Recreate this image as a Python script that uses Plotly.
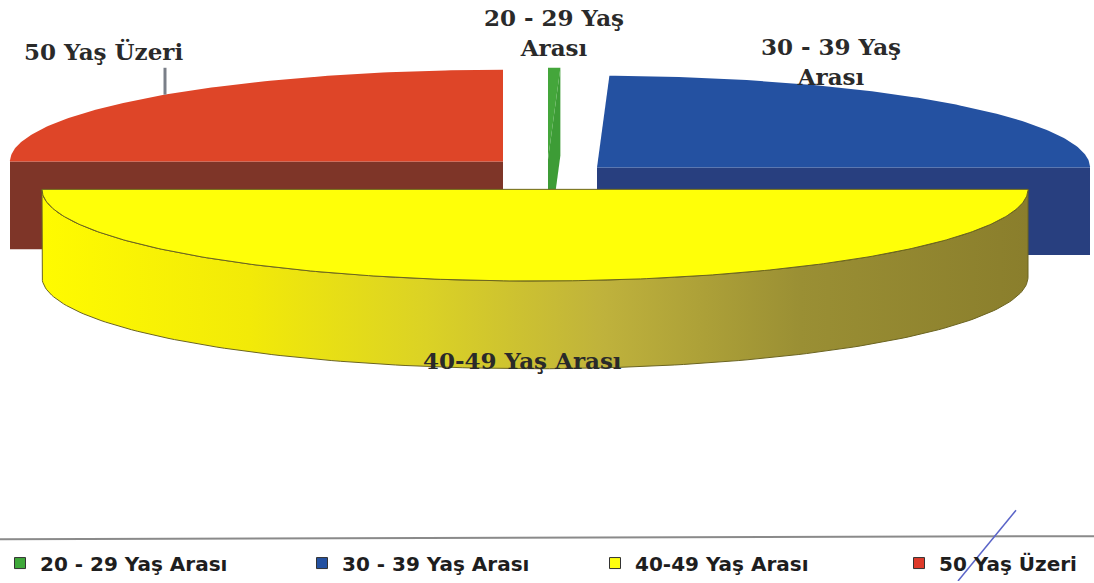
import numpy as np
import plotly.graph_objects as go

# ---- data ----
labels = ["20 - 29 Yaş Arası", "30 - 39 Yaş Arası", "40-49 Yaş Arası", "50 Yaş Üzeri"]
values = [0.4, 24.6, 50, 25]
slice_texts = ["20 - 29 Yaş<br>Arası", "30 - 39 Yaş<br>Arası", "40-49 Yaş Arası", "50 Yaş Üzeri"]

# ---- geometry / style (layout constants, page-pixel coordinates) ----
W, H = 1094, 583
CX, CY = 550, 172
RX, RY = 493, 92
DEPTH = 88
OFFSETS = [(-2, -12), (47, -4), (-15, 18), (-47, -10)]
TOP_COLORS = ["#44A63B", "#2451A1", "#FFFF08", "#DE4528"]
CUT_COLORS = ["#3D9C36", "#283F7F", "#B0A830", "#7E3528"]
LEG_COLORS = ["#3FA83A", "#2451A1", "#FFFF10", "#DE3A2A"]
WALL_SCALE = [[0, "#FFFB00"], [0.21, "#F2EA08"], [0.39, "#DBD225"],
              [0.57, "#BFB23C"], [0.77, "#9A8F34"], [1, "#8A7E2C"]]
LABEL_POS = [(554, 33), (831, 62), (522, 362), (103, 52)]
LEGEND_LEFT = [0, 302, 595, 899]
LEGEND_Y = 565

total = float(sum(values))
ends = np.cumsum(values) / total * 360.0
starts = ends - np.array(values) / total * 360.0
mids = (starts + ends) / 2


def rim(vx, vy, th, dy=0.0):
    t = np.radians(th)
    return vx + RX * np.sin(t), vy - RY * np.cos(t) + dy


fig = go.Figure()


def poly(xs, ys, color, line_color=None, lw=0, grad=None):
    kw = dict(x=list(xs), y=list(ys), mode="lines", fill="toself",
              line=dict(color=line_color or color, width=lw),
              hoverinfo="skip", showlegend=False)
    if grad is not None:
        kw["fillgradient"] = dict(type="horizontal", colorscale=grad)
    else:
        kw["fillcolor"] = color
    fig.add_trace(go.Scatter(**kw))


order = sorted(range(len(values)), key=lambda i: -np.cos(np.radians(mids[i])))
for i in order:
    vx = CX + OFFSETS[i][0]
    vy = CY + OFFSETS[i][1]
    t0, t1 = starts[i], ends[i]
    # cut faces facing the viewer
    for th, vis in ((t1, np.sin(np.radians(t1)) > 1e-6), (t0, np.sin(np.radians(t0)) < -1e-6)):
        if vis:
            rx_, ry_ = rim(vx, vy, th)
            poly([vx, rx_, rx_, vx, vx], [vy, ry_, ry_ + DEPTH, vy + DEPTH, vy], CUT_COLORS[i])
    # outer wall (front half)
    a, b = max(t0, 90), min(t1, 270)
    is_front = a < b
    if is_front:
        th = np.linspace(a, b, 160)
        xt, yt = rim(vx, vy, th)
        xb, yb = rim(vx, vy, th[::-1], DEPTH)
        poly(np.r_[xt, xb, xt[:1]], np.r_[yt, yb, yt[:1]], CUT_COLORS[i],
             line_color="#6B6420", lw=1, grad=WALL_SCALE)
    # top face
    th = np.linspace(t0, t1, max(4, int((t1 - t0) * 1.5)))
    xa, ya = rim(vx, vy, th)
    poly(np.r_[vx, xa, vx], np.r_[vy, ya, vy], TOP_COLORS[i],
         line_color="#6B6420" if is_front else TOP_COLORS[i], lw=1 if is_front else 0)

# legend entries, one legend per entry so they can be spaced like the original
legend_layout = {}
for i, lab in enumerate(labels):
    key = "legend" if i == 0 else "legend%d" % (i + 1)
    fig.add_trace(go.Scatter(x=[None], y=[None], mode="markers", name=lab, legend=key,
                             showlegend=True,
                             marker=dict(symbol="square", size=11, color=LEG_COLORS[i],
                                         line=dict(color="#333333", width=1))))
    legend_layout[key] = dict(
        x=LEGEND_LEFT[i] / W, y=1 - LEGEND_Y / H,
        xanchor="left", yanchor="middle", orientation="h",
        font=dict(family="DejaVu Sans", size=20, color="#1e1e1e", weight="bold"),
        bgcolor="rgba(0,0,0,0)", itemwidth=30)

# slice labels
for i, txt in enumerate(slice_texts):
    fig.add_annotation(x=LABEL_POS[i][0], y=LABEL_POS[i][1], text="<b>" + txt + "</b>",
                       showarrow=False, xanchor="center", yanchor="middle",
                       font=dict(family="DejaVu Serif", size=23, color="#2a2a2a"))

# leader line, legend separator and the pen stroke visible on the scanned original
fig.add_shape(type="line", x0=165, x1=165, y0=68, y1=95, line=dict(color="#7a7f88", width=3))
fig.add_shape(type="line", x0=0, x1=W, y0=541, y1=538, line=dict(color="#8a8a8a", width=2))
fig.add_shape(type="line", x0=1016, x1=958, y0=512, y1=583, line=dict(color="#5a64c8", width=1.5))

fig.update_layout(
    width=W, height=H, margin=dict(l=0, r=0, t=0, b=0),
    paper_bgcolor="white", plot_bgcolor="white",
    xaxis=dict(range=[0, W], visible=False, fixedrange=True),
    yaxis=dict(range=[H, 0], visible=False, fixedrange=True),
    showlegend=True,
    **legend_layout,
)

fig.write_html("out.html", config={"displayModeBar": False},
               post_script="document.body.style.margin='0px';"
                           "document.body.style.overflow='hidden';")
